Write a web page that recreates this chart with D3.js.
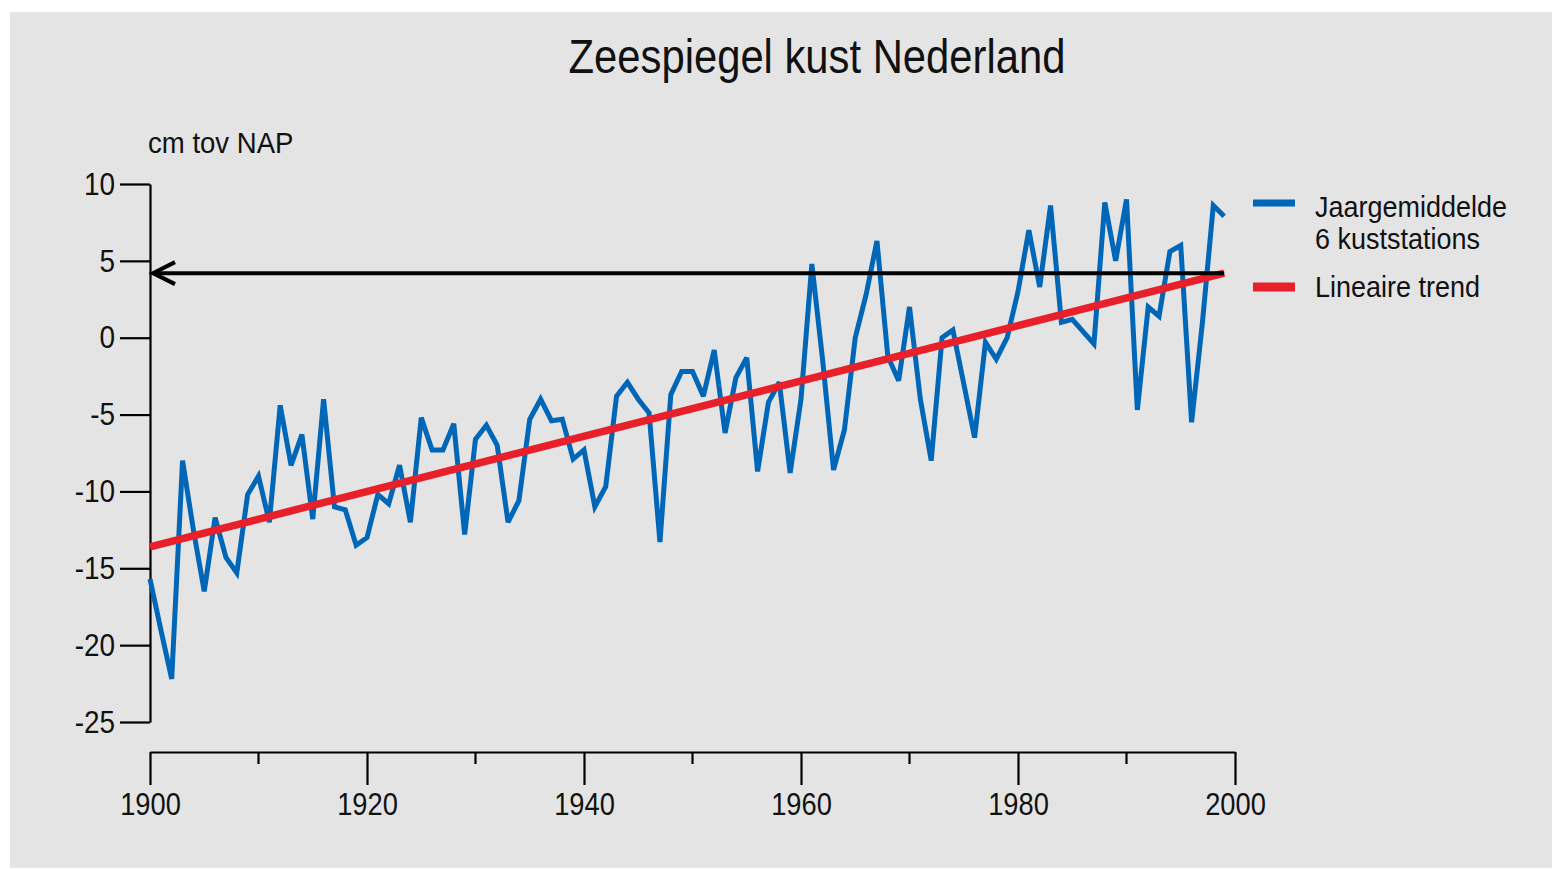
<!DOCTYPE html>
<html>
<head>
<meta charset="utf-8">
<script src="https://cdn.jsdelivr.net/npm/d3@7"></script>
<style>
  body { margin: 0; background: #fff; }
  svg text { font-family: "Liberation Sans Narrow", "Arial Narrow", "Liberation Sans", sans-serif; fill: #111; }
</style>
</head>
<body>
<svg id="chart" width="1561" height="869"></svg>
<script>
'use strict';
// jaargemiddelde zeespiegel, 6 kuststations (cm tov NAP)
let years = d3.range(1900, 2000);
let seaLevel = [
    -15.7, -19, -22.2, -8, -12.5, -16.5, -11.7, -14.3, -15.3, -10.2,
    -9, -12, -4.4, -8.3, -6.3, -11.8, -4, -11, -11.2, -13.5,
    -13, -10.2, -10.8, -8.3, -12, -5.2, -7.3, -7.3, -5.6, -12.8,
    -6.6, -5.7, -7, -12, -10.6, -5.3, -4, -5.4, -5.3, -7.9,
    -7.3, -11, -9.7, -3.8, -2.9, -4, -4.9, -13.3, -3.7, -2.2,
    -2.2, -3.8, -0.8, -6.2, -2.6, -1.3, -8.7, -4.2, -2.9, -8.8,
    -4, 4.8, -1.5, -8.6, -6, 0, 2.8, 6.3, -1.2, -2.8,
    2, -4, -8, 0, 0.5, -3, -6.5, -0.3, -1.4, 0,
    3, 7, 3.3, 8.6, 1, 1.2, 0.4, -0.4, 8.8, 5,
    9, -4.7, 2, 1.4, 5.6, 6, -5.5, 1, 8.6, 7.9
];
let trendYears = [1900, 1999];
let trendValues = [-13.6, 4.2];
let yTicks = [10, 5, 0, -5, -10, -15, -20, -25];
let xMajor = [1900, 1920, 1940, 1960, 1980, 2000];
let xMinor = [1910, 1930, 1950, 1970, 1990];
let legendItems = [
    {lines: ["Jaargemiddelde", "6 kuststations"], color: "#0066b8"},
    {lines: ["Lineaire trend"], color: "#e8202a"}
];

let svg = d3.select("#chart");

// geen smalle letter aanwezig: tekst iets in de breedte samendrukken
function squeeze(sel, k) {
    sel.each(function () {
        let w = this.getComputedTextLength();
        d3.select(this).attr("textLength", w * k).attr("lengthAdjust", "spacingAndGlyphs");
    });
}

svg.append("rect")
    .attr("x", 10).attr("y", 12)
    .attr("width", 1542).attr("height", 856)
    .attr("fill", "#e4e4e4");

let x = d3.scaleLinear().domain([1900, 2000]).range([150, 1235]);
let y = d3.scaleLinear().domain([-25, 10]).range([722, 184]);

svg.append("text")
    .attr("x", 817).attr("y", 73)
    .attr("text-anchor", "middle")
    .attr("font-size", 48)
    .text("Zeespiegel kust Nederland")
    .call(squeeze, 0.87);

svg.append("text")
    .attr("x", 148).attr("y", 153)
    .attr("font-size", 29)
    .text("cm tov NAP")
    .call(squeeze, 0.95);

// y-as
let yAxis = svg.append("g")
    .attr("transform", "translate(150,0)")
    .call(d3.axisLeft(y).tickValues(yTicks).tickFormat(d => String(d))
        .tickSize(30).tickSizeOuter(0).tickPadding(5));
yAxis.selectAll("text").attr("font-size", 31).attr("font-family", null).attr("dy", "0.33em")
    .call(squeeze, 0.9);

// x-as, los onder de grafiek
let xAxis = svg.append("g")
    .attr("transform", "translate(0,752)")
    .call(d3.axisBottom(x).tickValues(xMajor).tickFormat(d3.format("d"))
        .tickSize(33).tickSizeOuter(0).tickPadding(8));
xAxis.selectAll("text").attr("font-size", 31).attr("font-family", null)
    .call(squeeze, 0.88);
xAxis.selectAll()
    .data(xMinor)
    .enter().append("line")
    .attr("x1", d => x(d)).attr("x2", d => x(d))
    .attr("y1", 0).attr("y2", 12)
    .attr("stroke", "#000");

svg.selectAll(".domain, .tick line, g > line").attr("stroke", "#000").attr("stroke-width", 2.2);
svg.selectAll("g text").attr("fill", "#111");

let line = d3.line()
    .x((d, i) => x(years[i]))
    .y(d => y(d));

svg.append("path")
    .attr("d", line(seaLevel))
    .attr("fill", "none")
    .attr("stroke", "#0066b8")
    .attr("stroke-width", 5)
    .attr("stroke-linejoin", "miter")
    .attr("stroke-miterlimit", 3);

svg.append("path")
    .attr("d", d3.line().x((d, i) => x(trendYears[i])).y(d => y(d))(trendValues))
    .attr("fill", "none")
    .attr("stroke", "#e8202a")
    .attr("stroke-width", 7.5);

// pijl vanaf eind trend naar y-as
let ay = y(trendValues[1]);
svg.append("line")
    .attr("x1", x(trendYears[1])).attr("x2", x(1900) + 3)
    .attr("y1", ay).attr("y2", ay)
    .attr("stroke", "#000").attr("stroke-width", 4);
svg.append("path")
    .attr("d", `M${x(1900) + 25},${ay - 11} L${x(1900) + 3},${ay} L${x(1900) + 25},${ay + 11}`)
    .attr("fill", "none")
    .attr("stroke", "#000")
    .attr("stroke-width", 4);

// legenda
let leg = svg.append("g");
let legY = [203, 287];
let legText = [[217, 249], [297]];
legendItems.forEach((item, i) => {
    leg.append("line")
        .attr("x1", 1253).attr("x2", 1295)
        .attr("y1", legY[i]).attr("y2", legY[i])
        .attr("stroke", item.color)
        .attr("stroke-width", i == 0 ? 7 : 9);
    item.lines.forEach((t, j) => {
        leg.append("text")
            .attr("x", 1315)
            .attr("y", legText[i][j])
            .attr("font-size", 29)
            .text(t)
            .call(squeeze, 0.93);
    });
});
</script>
</body>
</html>
